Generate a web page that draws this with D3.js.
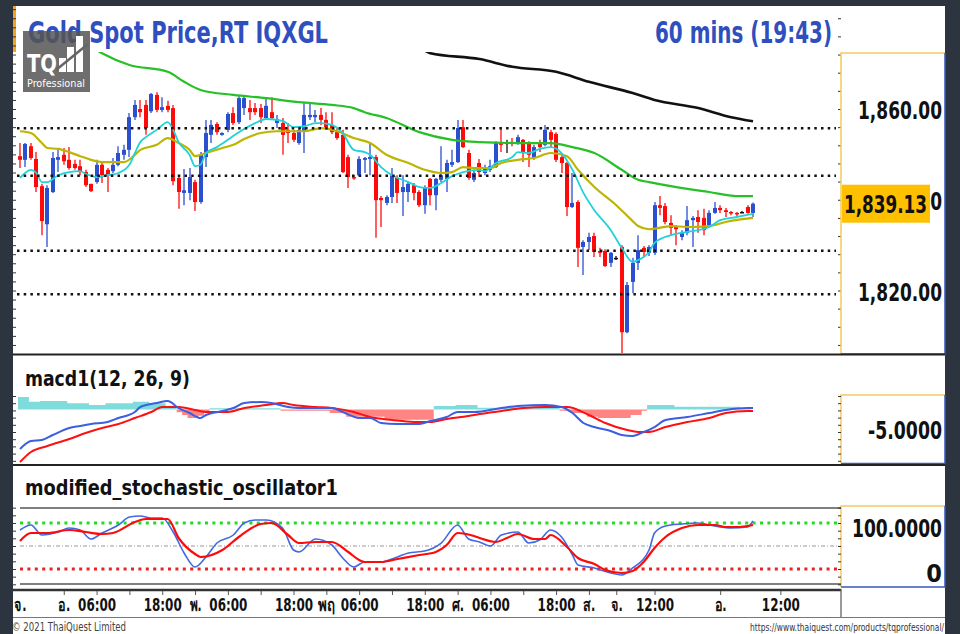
<!DOCTYPE html>
<html>
<head>
<meta charset="utf-8">
<script src="https://cdn.jsdelivr.net/npm/d3@7"></script>
<style>
  html, body { margin: 0; padding: 0; background: #2c3440; }
  svg { display: block; }
  text { font-family: "DejaVu Sans Condensed", "DejaVu Sans", sans-serif; }
</style>
</head>
<body>
<div id="chart"></div>
<script>

// ---------------- data ----------------

// hourly candles: [open, high, low, close]
var ohlc = [
  [1849.6,1852.5,1847.0,1848.8],[1848.8,1852.5,1847.2,1852.3],[1851.8,1852.5,1848.8,1849.2],[1849.0,1850.5,1841.7,1842.8],
  [1843.0,1843.5,1832.2,1835.3],[1834.6,1843.2,1829.6,1842.6],[1841.7,1850.5,1841.5,1849.2],[1848.8,1851.0,1846.1,1849.4],
  [1849.9,1851.4,1847.7,1848.5],[1848.8,1851.6,1846.6,1847.0],[1847.9,1848.8,1846.6,1847.0],[1847.4,1848.8,1845.4,1846.1],
  [1846.1,1846.6,1842.8,1843.2],[1843.5,1843.5,1841.7,1841.9],[1843.9,1848.8,1843.5,1847.7],[1847.7,1848.3,1843.7,1845.4],
  [1846.6,1847.0,1841.7,1845.4],[1846.3,1849.2,1845.9,1847.7],[1847.7,1851.8,1847.4,1850.3],[1849.9,1852.1,1848.8,1851.0],
  [1851.0,1859.1,1849.4,1858.2],[1858.2,1862.0,1857.6,1860.9],[1860.0,1862.0,1858.2,1859.3],[1860.9,1862.0,1854.3,1855.8],
  [1859.5,1863.5,1859.1,1863.3],[1863.1,1863.7,1859.3,1859.8],[1859.8,1862.6,1859.3,1860.4],[1860.7,1861.8,1859.3,1859.8],
  [1860.2,1860.9,1843.2,1844.1],[1844.8,1845.2,1838.0,1841.7],[1841.5,1846.8,1838.8,1842.1],[1841.5,1847.0,1839.9,1845.0],
  [1843.9,1844.4,1837.5,1839.5],[1839.5,1850.5,1839.1,1849.9],[1849.4,1857.6,1847.2,1854.7],[1854.3,1857.6,1852.5,1856.5],
  [1856.7,1857.1,1854.3,1854.9],[1854.3,1854.9,1854.1,1854.7],[1855.4,1859.3,1854.9,1858.9],[1859.1,1860.4,1856.5,1856.9],
  [1857.1,1862.9,1856.7,1862.4],[1860.2,1862.9,1858.7,1862.4],[1860.2,1862.0,1857.6,1859.3],[1860.2,1861.3,1858.7,1859.3],
  [1860.2,1861.1,1856.9,1858.2],[1858.0,1862.4,1857.6,1860.7],[1859.3,1862.6,1857.6,1858.0],[1856.9,1858.7,1855.8,1857.8],
  [1856.9,1858.0,1849.9,1854.3],[1855.4,1856.9,1852.5,1854.7],[1854.7,1855.4,1852.7,1853.2],[1852.5,1856.0,1852.1,1855.4],
  [1855.1,1861.3,1850.3,1858.7],[1858.2,1861.5,1857.6,1858.7],[1858.2,1859.8,1857.1,1858.7],[1858.7,1860.2,1856.5,1857.6],
  [1857.6,1859.3,1855.4,1856.0],[1856.5,1859.3,1854.5,1854.9],[1854.9,1855.8,1853.2,1853.6],[1854.3,1855.4,1845.9,1846.1],
  [1849.4,1849.9,1842.6,1845.0],[1845.0,1845.4,1844.4,1844.8],[1845.4,1849.6,1845.2,1849.0],[1848.8,1849.4,1845.9,1849.2],
  [1849.0,1852.5,1845.4,1849.4],[1849.4,1849.9,1831.6,1839.9],[1840.4,1840.8,1834.0,1839.9],[1839.3,1841.0,1838.8,1840.6],
  [1840.6,1847.0,1839.3,1845.4],[1844.8,1845.4,1839.3,1841.5],[1841.7,1845.4,1836.4,1842.8],[1841.7,1843.9,1839.5,1843.5],
  [1843.2,1843.7,1839.9,1841.5],[1841.7,1842.1,1838.4,1838.8],[1838.8,1843.2,1836.9,1842.6],[1844.6,1844.8,1838.8,1841.0],
  [1841.0,1844.8,1837.7,1844.6],[1844.4,1851.8,1843.9,1845.4],[1844.6,1848.8,1841.7,1848.1],[1847.7,1851.0,1847.2,1848.3],
  [1848.3,1857.6,1848.1,1855.8],[1856.0,1857.6,1851.4,1851.6],[1850.3,1851.0,1844.4,1844.8],[1844.4,1846.6,1843.9,1845.9],
  [1848.1,1849.0,1845.0,1846.1],[1845.9,1847.7,1845.4,1847.0],[1846.6,1848.8,1846.1,1847.4],[1847.2,1852.9,1847.0,1852.5],
  [1852.7,1855.6,1850.5,1852.1],[1852.6,1853.2,1850.3,1852.6],[1852.7,1853.6,1851.8,1852.5],[1852.5,1854.3,1852.1,1853.8],
  [1853.2,1853.4,1848.3,1850.3],[1852.5,1852.9,1847.2,1849.9],[1849.2,1852.1,1848.8,1851.6],[1852.7,1853.2,1850.5,1851.6],
  [1852.1,1856.5,1851.8,1855.4],[1854.9,1855.4,1851.6,1853.2],[1854.5,1854.9,1848.3,1848.8],[1849.4,1849.9,1845.9,1848.1],
  [1848.1,1848.3,1836.4,1838.4],[1838.4,1845.9,1838.2,1839.3],[1839.5,1839.9,1825.2,1829.4],[1829.6,1831.1,1823.4,1830.7],
  [1830.7,1832.7,1828.9,1831.8],[1832.0,1832.7,1827.4,1828.5],[1828.7,1829.4,1827.4,1828.3],[1828.7,1829.1,1825.2,1825.4],
  [1826.1,1828.5,1825.2,1828.3],[1827.2,1827.6,1826.7,1827.2],[1829.6,1830.0,1806.2,1810.8],[1810.8,1821.9,1810.6,1821.2],
  [1821.9,1827.2,1819.4,1826.1],[1826.1,1832.2,1824.5,1828.9],[1829.4,1829.8,1827.4,1828.5],[1828.3,1830.0,1827.6,1829.6],
  [1828.3,1839.5,1827.8,1838.8],[1838.8,1840.8,1836.6,1838.2],[1838.6,1839.3,1834.6,1835.1],[1834.9,1836.6,1832.2,1833.8],
  [1834.0,1834.4,1830.0,1833.5],[1831.8,1833.3,1831.1,1832.7],[1832.7,1838.6,1832.2,1835.5],[1835.5,1836.4,1829.6,1836.0],
  [1836.2,1837.7,1832.7,1835.1],[1836.0,1838.0,1832.2,1833.3],[1834.4,1837.7,1834.0,1837.1],[1837.1,1839.5,1836.9,1838.2],
  [1838.2,1838.8,1837.1,1837.7],[1837.7,1838.2,1836.2,1837.3],[1837.3,1837.5,1836.6,1837.1],[1837.1,1837.3,1836.4,1836.9],
  [1837.3,1837.5,1837.1,1837.3],[1838.4,1838.8,1836.9,1837.1],[1837.1,1839.4,1836.2,1839.13]
];

// moving averages: [bar index, price]
var maFast = [[0,1844.8],[2,1846.6],[3,1845.9],[4,1843.9],[5,1843.9],[7,1845.4],[9,1846.1],[11,1846.3],[12,1845.7],[14,1845.0],
  [16,1845.4],[18,1845.9],[20,1847.7],[21,1850.3],[22,1852.7],[23,1853.8],[25,1855.4],[27,1857.1],[28,1855.4],[29,1852.7],
  [31,1849.9],[32,1847.4],[33,1847.7],[34,1850.3],[36,1851.6],[38,1853.2],[40,1854.9],[43,1856.9],[45,1857.8],[48,1857.4],
  [50,1856.0],[52,1856.2],[54,1856.9],[55,1856.9],[57,1856.5],[59,1854.7],[61,1851.0],[63,1850.5],[64,1849.9],[66,1847.2],
  [68,1845.4],[71,1843.9],[73,1842.8],[75,1842.6],[77,1843.7],[79,1845.2],[81,1846.1],[84,1846.6],[85,1846.3],[87,1848.1],
  [90,1849.4],[91,1850.5],[93,1850.3],[95,1851.2],[97,1851.6],[99,1850.3],[101,1846.6],[103,1841.5],[105,1837.7],[108,1833.3],
  [110,1829.4],[112,1826.3],[113,1826.7],[115,1828.5],[116,1830.5],[119,1832.2],[122,1832.9],[126,1834.0],[128,1835.5],
  [131,1836.2],[134,1836.9]];
var maMid = [[0,1855.1],[2,1854.7],[4,1852.5],[5,1851.4],[7,1851.2],[9,1850.5],[11,1849.6],[13,1848.8],[15,1848.3],[17,1848.3],
  [19,1848.3],[21,1849.9],[22,1851.0],[25,1852.1],[27,1853.6],[29,1852.5],[31,1851.0],[32,1849.6],[34,1850.3],[37,1851.4],
  [39,1852.1],[41,1853.4],[44,1854.7],[47,1855.1],[50,1855.1],[52,1855.1],[55,1855.8],[58,1855.1],[61,1853.6],[64,1852.5],
  [67,1849.9],[71,1848.1],[74,1846.6],[77,1845.9],[79,1846.1],[81,1847.2],[83,1847.0],[86,1847.0],[88,1848.1],[91,1848.8],
  [94,1849.2],[97,1850.3],[100,1849.6],[102,1846.6],[105,1842.8],[109,1838.8],[112,1835.3],[113,1834.2],[115,1833.5],
  [119,1834.2],[122,1834.0],[126,1834.2],[129,1835.1],[134,1836.0]];
var maSlow = [[12,1874.5],[15,1872.3],[20,1869.7],[27,1868.2],[30,1866.0],[33,1864.2],[39,1863.1],[45,1862.4],[51,1861.5],
  [57,1860.9],[61,1860.2],[63,1859.3],[67,1858.0],[73,1854.9],[79,1853.2],[84,1852.7],[91,1852.5],[97,1852.5],[101,1851.6],
  [105,1850.3],[110,1846.6],[113,1844.4],[115,1843.9],[120,1842.8],[126,1841.7],[131,1840.8],[134,1840.8]];
var maLong = [[73,1873.8],[75,1872.3],[84,1871.0],[90,1869.3],[98,1868.2],[104,1866.0],[112,1863.5],[116,1862.0],
  [124,1860.2],[130,1858.2],[134,1857.3]];

var priceLevels = [1855.74, 1845.30, 1828.77, 1819.16];
var priceTicks = [1860, 1840, 1820];
var lastPrice = 1839.13;

// macd panel: [bar index, value]
var macdLine = [[0,-8.78],[2,-7.0],[4,-6.78],[6,-5.67],[9,-4.11],[11,-3.67],[13,-3.22],[16,-2.78],[18,-1.89],[21,-0.56],
  [22,0.56],[25,1.44],[27,1.89],[29,0.33],[31,-0.78],[33,-1.89],[34,-1.22],[37,-0.33],[39,0.33],[41,1.44],[44,1.67],
  [46,1.44],[49,0.56],[51,0.33],[55,0.33],[57,0.33],[59,-0.56],[62,-1.89],[64,-1.89],[66,-3.0],[69,-3.22],[73,-3.22],
  [75,-2.56],[78,-1.67],[80,-0.56],[83,-0.56],[88,0.33],[91,0.78],[96,1.0],[99,0.56],[101,-0.78],[103,-3.0],[105,-3.89],
  [108,-4.78],[110,-5.67],[112,-5.89],[114,-5.0],[116,-3.89],[118,-2.33],[122,-1.67],[126,-0.78],[129,-0.11],[133,0.33],[134,0.33]];
var signalLine = [[0,-11.67],[2,-9.44],[5,-8.11],[9,-6.56],[12,-5.22],[15,-4.11],[18,-3.22],[21,-1.89],[24,-0.56],[26,0.56],
  [29,0.56],[32,-0.11],[34,-0.56],[38,-0.56],[41,0.33],[45,1.0],[48,1.44],[50,1.0],[54,0.56],[57,0.33],[61,-0.56],[64,-1.67],
  [68,-2.33],[72,-2.78],[75,-2.78],[78,-2.11],[82,-1.44],[84,-1.0],[88,-0.33],[92,0.33],[96,0.56],[100,0.56],[104,-1.22],
  [107,-3.0],[111,-4.56],[113,-5.0],[115,-5.0],[118,-3.89],[122,-2.78],[126,-1.89],[129,-0.78],[133,-0.33],[134,-0.33]];
var macdHist = [[0,2.8],[2,1.7],[4,1.9],[9,1.4],[13,1.0],[16,1.4],[21,1.7],[24,1.4],[27,0.6],[29,-0.6],[30,-1.2],[31,-1.9],
  [33,-1.4],[34,-0.6],[35,0.3],[48,-0.3],[57,-0.8],[60,-1.6],[67,-2.3],[75,-2.3],[76,0.8],[80,1.0],[84,0.4],[88,0.5],
  [98,0.4],[99,-0.3],[101,-0.8],[104,-1.6],[106,-1.9],[112,-1.2],[114,-0.3],[115,1.0],[120,0.6],[132,0.4],[134,0.4]];
var macdTicks = [-5];

// stochastic panel: [bar index, value]
var stochK = [[0,84.8],[2,95.7],[4,73.9],[7,80.4],[9,89.1],[11,84.8],[13,65.2],[15,78.3],[18,95.7],[20,113],[22,115.2],
  [24,110.9],[26,110.9],[28,80.4],[30,34.8],[32,4.3],[34,26.1],[36,56.5],[39,73.9],[41,100],[43,106.5],[45,106.5],[48,89.1],
  [50,41.3],[51,37],[54,65.2],[57,52.2],[59,23.9],[61,4.3],[63,15.2],[66,15.2],[69,26.1],[71,34.8],[74,39.1],[77,56.5],
  [80,95.7],[82,65.2],[84,58.7],[86,50],[88,73.9],[91,80.4],[93,56.5],[95,63],[97,84.8],[99,69.6],[101,30.4],[102,8.7],
  [105,2.2],[108,-8.7],[110,-13],[112,2.2],[115,41.3],[116,78.3],[118,93.5],[121,97.8],[124,100],[127,93.5],[130,89.1],
  [133,91.3],[134,104.3]];
var stochD = [[0,60.9],[2,78.3],[5,78.3],[9,84.8],[12,80.4],[15,76.1],[17,78.3],[21,102.2],[23,108.7],[27,108.7],[29,67.4],
  [32,32.6],[33,26.1],[37,41.3],[40,69.6],[44,97.8],[46,100],[49,73.9],[51,56.5],[54,58.7],[57,58.7],[60,37],[62,19.6],
  [63,15.2],[66,15.2],[69,21.7],[73,30.4],[76,37],[78,52.2],[80,78.3],[83,71.7],[84,67.4],[87,58.7],[89,67.4],[91,76.1],
  [94,65.2],[96,65.2],[97,73.9],[100,47.8],[102,23.9],[105,10.9],[107,-2.2],[110,-8.7],[112,-4.3],[114,15.2],[116,45.7],
  [118,69.6],[121,89.1],[124,95.7],[127,95.7],[129,91.3],[131,91.3],[134,95.7]];
var stochTicks = [100, 0];

// time axis
var timeIdx = [0, 8, 14, 26, 32, 38, 50, 56, 62, 74, 80, 86, 98, 104, 109, 116, 128, 139];
var timeLabels = ["จ.", "อ.", "06:00", "18:00", "พ.", "06:00", "18:00", "พฤ", "06:00", "18:00", "ศ.", "06:00", "18:00", "ส.", "จ.", "12:00", "อ.", "12:00"];
var timeMinor = [8, 14, 20, 26, 32, 38, 44, 50, 56, 62, 68, 74, 80, 86, 92, 98, 104, 109, 116, 128, 139];

// ---------------- drawing ----------------

var W = 960, H = 634;
var plotL = 13, plotR = 841;

var svg = d3.select("#chart").append("svg")
  .attr("width", W)
  .attr("height", H);

// frame
svg.append("rect").attr("width", W).attr("height", H).attr("fill", "#2c3440");
svg.append("rect").attr("x", 13).attr("y", 6).attr("width", 932).attr("height", 628).attr("fill", "#fff");
svg.append("rect").attr("x", 13).attr("y", 6).attr("width", 3).attr("height", 46).attr("fill", "#f5a21e");

var defs = svg.append("defs");
defs.append("clipPath").attr("id", "clipPrice")
  .append("rect").attr("x", plotL).attr("y", 52).attr("width", plotR - plotL).attr("height", 302);

// Scales
var x = d3.scaleLinear().domain([0, 134]).range([20, 753]);
var yP = d3.scaleLinear().domain([1820, 1860]).range([290.5, 109]);
var yM = d3.scaleLinear().domain([-5, 0]).range([432, 409.5]);
var yS = d3.scaleLinear().domain([0, 100]).range([569, 523]);

function candleColor(d) {
  if (d[3] > d[0]) { return "#2b50cf"; }
  if (d[3] < d[0]) { return "#ff0a0a"; }
  return "#111";
}

// plain hyphen instead of the unicode minus
function fixed4(d) { return d3.format(".4f")(d).replace("\u2212", "-"); }

// ---- price panel ----
var gP = svg.append("g").attr("clip-path", "url(#clipPrice)");

gP.selectAll("line.wick")
  .data(ohlc)
  .enter().append("line")
  .attr("class", "wick")
  .attr("x1", function(d, i) { return Math.round(x(i)); })
  .attr("x2", function(d, i) { return Math.round(x(i)); })
  .attr("y1", function(d) { return yP(d[1]); })
  .attr("y2", function(d) { return yP(d[2]); })
  .attr("stroke", candleColor)
  .attr("stroke-width", 1.3);

gP.selectAll("rect.body")
  .data(ohlc)
  .enter().append("rect")
  .attr("class", "body")
  .attr("x", function(d, i) { return Math.round(x(i)) - 2; })
  .attr("width", 4)
  .attr("y", function(d) { return yP(Math.max(d[0], d[3])); })
  .attr("height", function(d) { return Math.max(1.5, Math.abs(yP(d[0]) - yP(d[3]))); })
  .attr("fill", candleColor);

var priceLine = d3.line()
  .x(function(d) { return x(d[0]); })
  .y(function(d) { return yP(d[1]); })
  .curve(d3.curveMonotoneX);

var maSeries = [
  {data: maLong, color: "#111", width: 2.6},
  {data: maSlow, color: "#27c027", width: 2.2},
  {data: maMid, color: "#bdb500", width: 2.2},
  {data: maFast, color: "#1fd3d8", width: 1.8}
];
gP.selectAll("path.ma")
  .data(maSeries)
  .enter().append("path")
  .attr("class", "ma")
  .attr("d", function(d) { return priceLine(d.data); })
  .attr("fill", "none")
  .attr("stroke", function(d) { return d.color; })
  .attr("stroke-width", function(d) { return d.width; });

gP.selectAll("line.level")
  .data(priceLevels)
  .enter().append("line")
  .attr("class", "level")
  .attr("x1", 17).attr("x2", 836)
  .attr("y1", function(d) { return yP(d); })
  .attr("y2", function(d) { return yP(d); })
  .attr("stroke", "#111")
  .attr("stroke-width", 2.5)
  .attr("stroke-dasharray", "2.5,4.2");

// left / right minor ticks of the price scale
svg.append("g")
  .attr("transform", "translate(" + plotL + ",0)")
  .call(d3.axisRight(yP).tickValues(d3.range(1808, 1884, 2)).tickSize(3).tickFormat(""))
  .call(function(g) { g.select(".domain").remove(); g.selectAll("line").attr("stroke", "#333"); });
svg.append("g")
  .attr("transform", "translate(" + plotR + ",0)")
  .call(d3.axisLeft(yP).tickValues(d3.range(1808, 1884, 4)).tickSize(3).tickFormat(""))
  .call(function(g) { g.select(".domain").remove(); g.selectAll("line").attr("stroke", "#333"); });

// right axis boxes
function axisBox(y0, y1) {
  svg.append("path").attr("d", "M" + plotR + "," + y1 + "V" + y0 + "H945")
    .attr("fill", "none").attr("stroke", "#f4ca5e").attr("stroke-width", 1.5);
  svg.append("path").attr("d", "M945," + y0 + "V" + y1 + "H" + plotR)
    .attr("fill", "none").attr("stroke", "#3557c5").attr("stroke-width", 1.5);
}
axisBox(53, 354);
axisBox(395, 463.5);
axisBox(506, 587);

// price labels
svg.append("g")
  .attr("transform", "translate(942,0)")
  .call(d3.axisLeft(yP).tickValues(priceTicks).tickSize(0).tickPadding(0).tickFormat(d3.format(",.2f")))
  .call(function(g) {
    g.select(".domain").remove();
    g.selectAll("text")
      .attr("dy", "0.38em")
      .attr("fill", "#111")
      .style("font-size", "25px")
      .style("font-weight", "bold")
      .attr("textLength", 84)
      .attr("lengthAdjust", "spacingAndGlyphs");
  });

// current price tag
svg.append("rect")
  .attr("x", 842).attr("y", yP(lastPrice) - 19)
  .attr("width", 88).attr("height", 38)
  .attr("fill", "#ffc000");
svg.append("text")
  .attr("x", 844).attr("y", yP(lastPrice) + 9)
  .attr("fill", "#111")
  .style("font-size", "25px").style("font-weight", "bold")
  .attr("textLength", 83).attr("lengthAdjust", "spacingAndGlyphs")
  .text(d3.format(",.2f")(lastPrice));

// titles
svg.append("text")
  .attr("x", 28).attr("y", 43)
  .attr("fill", "#2f4fbf")
  .style("font-size", "31px").style("font-weight", "bold")
  .attr("textLength", 300).attr("lengthAdjust", "spacingAndGlyphs")
  .text("Gold Spot Price,RT IQXGL");
svg.append("text")
  .attr("x", 655).attr("y", 43)
  .attr("fill", "#2f4fbf")
  .style("font-size", "31px").style("font-weight", "bold")
  .attr("textLength", 177).attr("lengthAdjust", "spacingAndGlyphs")
  .text("60 mins (19:43)");

// TQ logo
var logo = svg.append("g");
logo.append("rect").attr("x", 23).attr("y", 31).attr("width", 67).attr("height", 61)
  .attr("fill", "#555").attr("opacity", 0.85);
logo.append("text").attr("x", 27).attr("y", 72).attr("fill", "#fff")
  .style("font-size", "25px").style("font-weight", "bold")
  .attr("textLength", 30).attr("lengthAdjust", "spacingAndGlyphs").text("TQ");
logo.selectAll("rect.bar")
  .data([[59, 58], [67, 47], [76, 36]])
  .enter().append("rect")
  .attr("x", function(d) { return d[0]; }).attr("y", function(d) { return d[1]; })
  .attr("width", 7).attr("height", function(d) { return 72 - d[1]; })
  .attr("fill", "#fff");
logo.append("line").attr("x1", 56).attr("y1", 70).attr("x2", 88).attr("y2", 44)
  .attr("stroke", "#666").attr("stroke-width", 2.5);
logo.append("text").attr("x", 27).attr("y", 87).attr("fill", "#fff")
  .style("font-size", "11px")
  .attr("textLength", 58).attr("lengthAdjust", "spacingAndGlyphs").text("Professional");

// panel separators
svg.append("line").attr("x1", plotL).attr("x2", 945).attr("y1", 354.5).attr("y2", 354.5)
  .attr("stroke", "#222").attr("stroke-width", 2);
svg.append("line").attr("x1", plotL).attr("x2", 945).attr("y1", 465).attr("y2", 465)
  .attr("stroke", "#222").attr("stroke-width", 2);

// ---- macd panel ----
svg.append("text")
  .attr("x", 25).attr("y", 386)
  .attr("fill", "#111")
  .style("font-size", "21px").style("font-weight", "bold")
  .attr("textLength", 165).attr("lengthAdjust", "spacingAndGlyphs")
  .text("macd1(12, 26, 9)");

var histPos = d3.area()
  .x(function(d) { return x(d[0]) - 2; })
  .y0(yM(0))
  .y1(function(d) { return yM(Math.max(0, d[1])); })
  .curve(d3.curveStepAfter);
var histNeg = d3.area()
  .x(function(d) { return x(d[0]) - 2; })
  .y0(yM(0))
  .y1(function(d) { return yM(Math.min(0, d[1])); })
  .curve(d3.curveStepAfter);

svg.append("path").attr("d", histPos(macdHist)).attr("fill", "#7fdcdc");
svg.append("path").attr("d", histNeg(macdHist)).attr("fill", "#ff8585");

var macdPath = d3.line()
  .x(function(d) { return x(d[0]); })
  .y(function(d) { return yM(d[1]); })
  .curve(d3.curveMonotoneX);

svg.append("path").attr("d", macdPath(signalLine))
  .attr("fill", "none").attr("stroke", "#ff1010").attr("stroke-width", 2);
svg.append("path").attr("d", macdPath(macdLine))
  .attr("fill", "none").attr("stroke", "#3a5fe0").attr("stroke-width", 2);

svg.append("g")
  .attr("transform", "translate(" + plotL + ",0)")
  .call(d3.axisRight(yM).tickValues(d3.range(-11.4, 3.5, 1.6)).tickSize(3).tickFormat(""))
  .call(function(g) { g.select(".domain").remove(); g.selectAll("line").attr("stroke", "#333"); });
svg.append("g")
  .attr("transform", "translate(" + plotR + ",0)")
  .call(d3.axisLeft(yM).tickValues(d3.range(-11.4, 3.5, 1.6)).tickSize(3).tickFormat(""))
  .call(function(g) { g.select(".domain").remove(); g.selectAll("line").attr("stroke", "#333"); });

svg.append("g")
  .attr("transform", "translate(942,0)")
  .call(d3.axisLeft(yM).tickValues(macdTicks).tickSize(0).tickPadding(0).tickFormat(fixed4))
  .call(function(g) {
    g.select(".domain").remove();
    g.selectAll("text")
      .attr("dy", "0.25em")
      .attr("fill", "#111")
      .style("font-size", "25px").style("font-weight", "bold")
      .attr("textLength", 74).attr("lengthAdjust", "spacingAndGlyphs");
  });

// ---- stochastic panel ----
svg.append("text")
  .attr("x", 25).attr("y", 495)
  .attr("fill", "#111")
  .style("font-size", "22px").style("font-weight", "bold")
  .attr("textLength", 313).attr("lengthAdjust", "spacingAndGlyphs")
  .text("modified_stochastic_oscillator1");

svg.append("line").attr("x1", 20).attr("x2", plotR).attr("y1", 508).attr("y2", 508)
  .attr("stroke", "#555").attr("stroke-width", 1.5);
svg.append("line").attr("x1", 20).attr("x2", plotR).attr("y1", 584).attr("y2", 584)
  .attr("stroke", "#555").attr("stroke-width", 1.5);

var stochLevels = [
  {v: 100, color: "#22dd22", dash: "3,4.4", width: 3},
  {v: 50, color: "#999", dash: "4,2,1,2", width: 1},
  {v: 0, color: "#ee2020", dash: "3,4.4", width: 3}
];
svg.selectAll("line.slevel")
  .data(stochLevels)
  .enter().append("line")
  .attr("class", "slevel")
  .attr("x1", 20).attr("x2", plotR - 3)
  .attr("y1", function(d) { return yS(d.v); })
  .attr("y2", function(d) { return yS(d.v); })
  .attr("stroke", function(d) { return d.color; })
  .attr("stroke-width", function(d) { return d.width; })
  .attr("stroke-dasharray", function(d) { return d.dash; });

var stochPath = d3.line()
  .x(function(d) { return x(d[0]); })
  .y(function(d) { return yS(d[1]); })
  .curve(d3.curveMonotoneX);

svg.append("path").attr("d", stochPath(stochK))
  .attr("fill", "none").attr("stroke", "#4169e1").attr("stroke-width", 1.6);
svg.append("path").attr("d", stochPath(stochD))
  .attr("fill", "none").attr("stroke", "#ff0a0a").attr("stroke-width", 2.2);

var stochMinor = d3.range(-33.3, 140, 16.667);
svg.append("g")
  .attr("transform", "translate(" + plotL + ",0)")
  .call(d3.axisRight(yS).tickValues(stochMinor).tickSize(3).tickFormat(""))
  .call(function(g) { g.select(".domain").remove(); g.selectAll("line").attr("stroke", "#333"); });
svg.append("g")
  .attr("transform", "translate(" + plotR + ",0)")
  .call(d3.axisLeft(yS).tickValues(stochMinor).tickSize(3).tickFormat(""))
  .call(function(g) { g.select(".domain").remove(); g.selectAll("line").attr("stroke", "#333"); });

svg.append("g")
  .attr("transform", "translate(942,0)")
  .call(d3.axisLeft(yS).tickValues(stochTicks).tickSize(0).tickPadding(0)
    .tickFormat(function(d) { return d === 0 ? "0" : fixed4(d); }))
  .call(function(g) {
    g.select(".domain").remove();
    g.selectAll("text")
      .attr("dy", function(d) { return d === 0 ? "0.5em" : "0.54em"; })
      .attr("fill", "#111")
      .style("font-size", "25px").style("font-weight", "bold")
      .each(function(d) {
        if (d !== 0) { d3.select(this).attr("textLength", 90).attr("lengthAdjust", "spacingAndGlyphs"); }
      });
  });

// ---- time axis ----
svg.append("line").attr("x1", plotL).attr("x2", plotR).attr("y1", 590).attr("y2", 590)
  .attr("stroke", "#333").attr("stroke-width", 2.5);
svg.append("line").attr("x1", plotL).attr("x2", 945).attr("y1", 617.5).attr("y2", 617.5)
  .attr("stroke", "#777").attr("stroke-width", 1.2);
svg.append("line").attr("x1", plotR).attr("x2", plotR).attr("y1", 589).attr("y2", 617)
  .attr("stroke", "#555").attr("stroke-width", 1.2);

svg.append("g")
  .attr("transform", "translate(0,591)")
  .call(d3.axisBottom(x).tickValues(timeMinor).tickSize(4).tickFormat(""))
  .call(function(g) { g.select(".domain").remove(); g.selectAll("line").attr("stroke", "#555"); });

svg.append("g")
  .attr("transform", "translate(0,591)")
  .call(d3.axisBottom(x).tickValues(timeIdx).tickSize(0).tickPadding(0)
    .tickFormat(function(d, i) { return timeLabels[i]; }))
  .call(function(g) {
    g.select(".domain").remove();
    g.selectAll("text")
      .attr("y", 20).attr("dy", 0)
      .attr("fill", "#111")
      .style("font-size", "18px").style("font-weight", "bold")
      .each(function(d, i) {
        var t = timeLabels[i];
        var w = t.indexOf(":") > 0 ? 38 : (t.length > 1 && t.charAt(1) !== "." ? 17 : 12);
        d3.select(this).attr("textLength", w).attr("lengthAdjust", "spacingAndGlyphs");
      });
  });

// footer
svg.append("text")
  .attr("x", 12).attr("y", 631)
  .attr("fill", "#444")
  .style("font-size", "12px")
  .attr("textLength", 114).attr("lengthAdjust", "spacingAndGlyphs")
  .text("© 2021 ThaiQuest Limited");
svg.append("text")
  .attr("x", 750).attr("y", 631)
  .attr("fill", "#333")
  .style("font-size", "11px")
  .attr("textLength", 194).attr("lengthAdjust", "spacingAndGlyphs")
  .text("https://www.thaiquest.com/products/tqprofessional/");

</script>
</body>
</html>
